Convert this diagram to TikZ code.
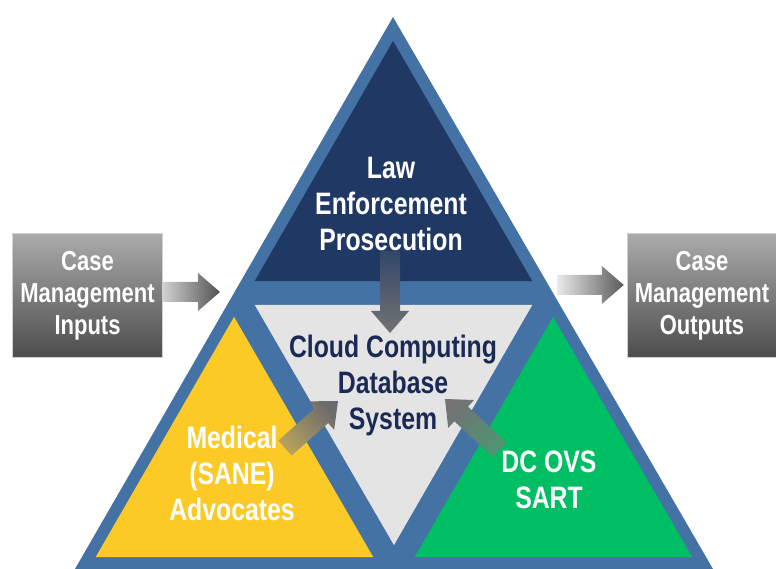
\documentclass[tikz,border=0pt]{standalone}
\usepackage{fontspec}
\newfontfamily\narrowsf{Liberation Sans}[FakeStretch=0.8]
\usepackage{xcolor}
\usetikzlibrary{calc}
\usetikzlibrary{positioning}

\definecolor{rim}{HTML}{4472A4}
\definecolor{lawnavy}{HTML}{203864}
\definecolor{medyellow}{HTML}{FCCA26}
\definecolor{sartgreen}{HTML}{00BE63}
\definecolor{cloudgray}{HTML}{E4E4E4}
\definecolor{cloudtext}{HTML}{1B2A55}

% block arrow: tail, tip, tail colour, tip colour, shading angle
\newcommand\flowarrow[5]{%
  \coordinate (fa-h) at ($(#2)!22pt!(#1)$);
  \shade[left color=#3, right color=#4, shading angle=#5]
    ($(#1)!10pt!90:(#2)$) -- ($(fa-h)!10pt!90:(#2)$) -- ($(fa-h)!19pt!90:(#2)$)
    -- (#2) -- ($(fa-h)!19pt!-90:(#2)$) -- ($(fa-h)!10pt!-90:(#2)$)
    -- ($(#1)!10pt!-90:(#2)$) -- cycle;}

\begin{document}
\begin{tikzpicture}[x=1pt, y=1pt,
    tritext/.style={text=white, align=center, inner sep=0pt,
      font=\narrowsf\bfseries\fontsize{31}{36}\selectfont},
    casebox/.style={minimum width=150pt, minimum height=124pt, inner sep=0pt,
      top color=black!33, bottom color=black!70, draw=black!18, text=white,
      align=center, font=\narrowsf\bfseries\fontsize{27.5}{32}\selectfont}]
  \useasboundingbox (0,0) rectangle (776,569);

  % the big triangle and its four parts
  \coordinate (A) at (393,552);
  \coordinate (B) at (75,0);
  \coordinate (C) at (713,0);
  \coordinate (AB) at ($(A)!0.5!(B)$);
  \coordinate (AC) at ($(A)!0.5!(C)$);
  \coordinate (BC) at ($(B)!0.5!(C)$);
  \fill[rim] (A) -- (B) -- (C) -- cycle;
  \foreach \col/\p/\q/\r in {lawnavy/A/AB/AC, cloudgray/AB/AC/BC,
      medyellow/AB/B/BC, sartgreen/AC/BC/C} {
    \coordinate (g) at ($(\p)!0.5!(\q)!1/3!(\r)$);
    \fill[\col] ($(g)!0.87!(\p)$) -- ($(g)!0.87!(\q)$) -- ($(g)!0.87!(\r)$) -- cycle;
  }

  \node[tritext] (law) at (391,365) {Law\\Enforcement\\Prosecution};
  \node[tritext, text=cloudtext] (cloud) at (393,184) {Cloud Computing\\Database\\System};
  \node[tritext] (medical) at (232,96) {Medical\\(SANE)\\Advocates};
  \node[tritext] (sart) at (549,89) {DC OVS\\SART};
  \node[casebox] (inputs) at (87.5,273.5) {Case\\Management\\Inputs};
  \node[casebox] (outputs) at (702,273.5) {Case\\Management\\Outputs};

  % arrows
  \coordinate (inTip) at (220,277);
  \coordinate (inTail) at (inputs.east |- inTip);
  \coordinate (outTail) at (557,284);
  \coordinate (outTip) at ($(outputs.west |- outTail)+(-3,0)$);
  \coordinate (lawTail) at (390,318);
  \coordinate (lawTip) at (390,236);
  \coordinate (medTail) at (285,121);
  \coordinate (medTip) at (338,168);
  \coordinate (sartTail) at (500,119);
  \coordinate (sartTip) at (445,170);

  \flowarrow{inTail}{inTip}{black!18}{black!68}{90}
  \flowarrow{outTail}{outTip}{black!8}{black!65}{90}
  \flowarrow{lawTail}{lawTip}{lawnavy!80!gray}{black!55}{0}
  \flowarrow{medTail}{medTip}{medyellow!60!black!70}{black!58}{131.6}
  \flowarrow{sartTail}{sartTip}{sartgreen!55!black!70}{black!55}{227.2}
\end{tikzpicture}
\end{document}
